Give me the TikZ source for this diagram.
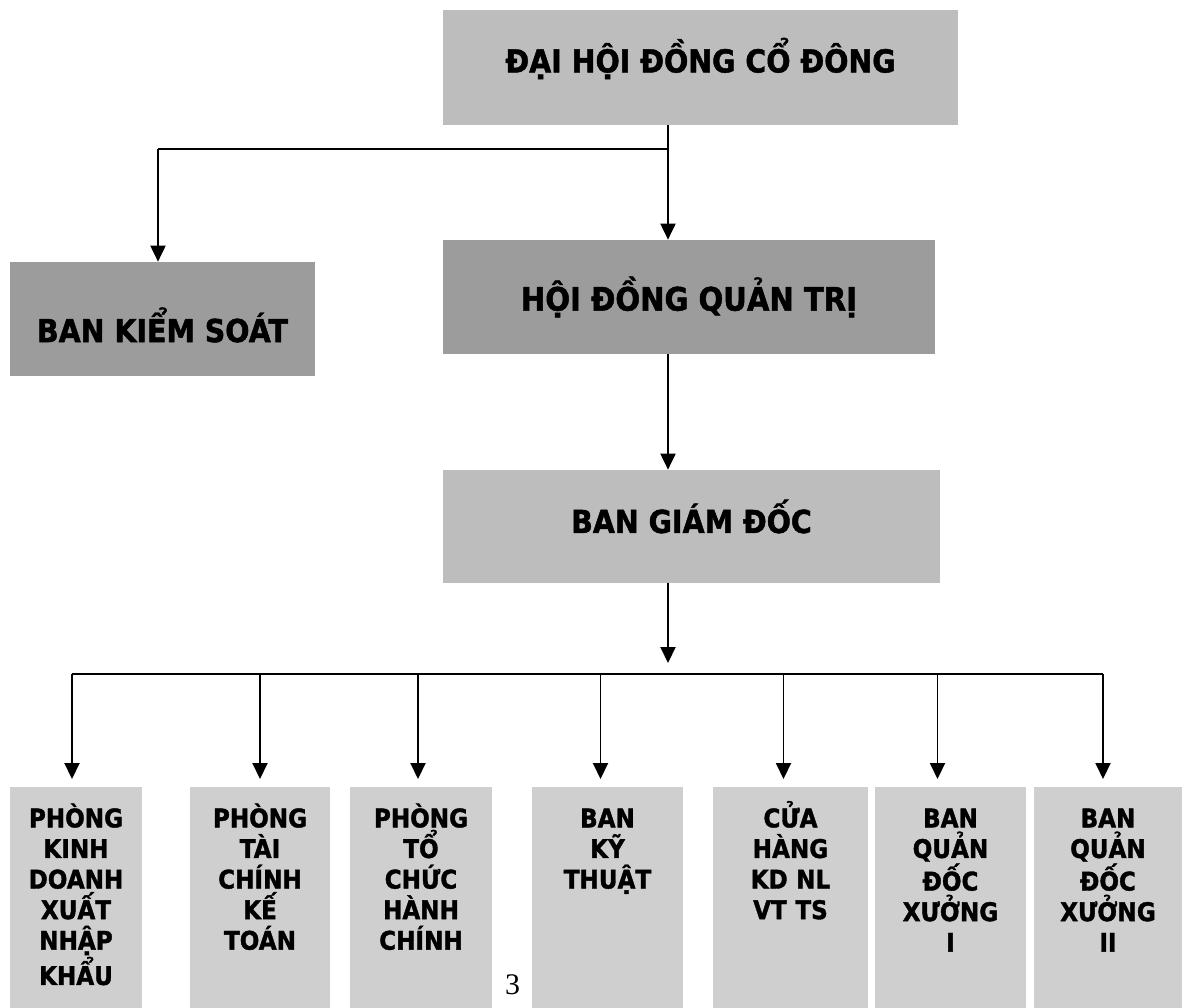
\documentclass[tikz,border=0pt]{standalone}
\usepackage{fontspec}
\setmainfont{DejaVu Sans}[BoldFeatures={FakeStretch=0.9,FakeBold=1.5}]
\newfontfamily\pagefont{Liberation Serif}
\usetikzlibrary{arrows.meta,positioning}

\newcommand{\lift}[2]{\raisebox{#1}[\height][\depth]{#2}}

\begin{document}
\begin{tikzpicture}
    % Define styles
    \tikzstyle{top} = [rectangle, fill=black!26, inner sep=0pt, font=\fontsize{18}{21}\selectfont\bfseries]
    \tikzstyle{board} = [rectangle, fill=black!39, inner sep=0pt, font=\fontsize{18}{21}\selectfont\bfseries]
    \tikzstyle{dept} = [rectangle, fill=black!19, anchor=north, inner sep=0pt, align=center, text height=0.8cm, text depth=3.8cm, font=\fontsize{14.6}{17.4}\selectfont\bfseries]
    \tikzstyle{arrow} = [line width=1.1pt, ->, >={Triangle[length=3.2mm,width=3mm]}]
    \tikzstyle{link} = [line width=1.1pt]

    \useasboundingbox (0,0) rectangle (23.88,-20.14);

    % Nodes
    \node[top, minimum width=10.3cm, minimum height=2.3cm] (dhcd) at (14.01,-1.35) {\lift{0.18cm}{ĐẠI HỘI ĐỒNG CỔ ĐÔNG}};
    \node[board, minimum width=6.1cm, minimum height=2.28cm] (bks) at (3.25,-6.38) {\lift{-0.12cm}{BAN KIỂM SOÁT}};
    \node[board, minimum width=9.84cm, minimum height=2.28cm, font=\fontsize{18.4}{22}\selectfont\bfseries] (hdqt) at (13.78,-5.94) {HỘI ĐỒNG QUẢN TRỊ};
    \node[top, minimum width=9.94cm, minimum height=2.26cm] (bgd) at (13.83,-10.53) {\lift{0.2cm}{BAN GIÁM ĐỐC}};

    \node[dept, text width=2.64cm] (kd) at (1.52,-15.74) {PHÒNG\\KINH\\DOANH\\XUẤT\\NHẬP\\KHẨU};
    \node[dept, text width=2.80cm] (tc) at (5.20,-15.74) {PHÒNG\\TÀI\\CHÍNH\\KẾ\\TOÁN};
    \node[dept, text width=2.84cm] (hc) at (8.42,-15.74) {PHÒNG\\TỔ\\CHỨC\\HÀNH\\CHÍNH};
    \node[dept, text width=3.02cm] (kt) at (12.15,-15.74) {BAN\\KỸ\\THUẬT};
    \node[dept, text width=3.10cm] (ch) at (15.81,-15.74) {CỬA\\HÀNG\\KD NL\\VT TS};
    \node[dept, text width=3.02cm] (x1) at (19.01,-15.74) {BAN\\QUẢN\\ĐỐC\\XƯỞNG\\I};
    \node[dept, text width=2.96cm] (x2) at (22.16,-15.74) {BAN\\QUẢN\\ĐỐC\\XƯỞNG\\II};

    \node[font=\pagefont\fontsize{17}{20}\selectfont] (page) at (10.25,-19.7) {3};

    % Junctions
    \coordinate (spine) at (13.36,0);
    \coordinate (split) at (13.36,-2.98);
    \coordinate (bus) at (13.36,-13.48);

    % Arrows
    \draw[link] (dhcd.south -| spine) -- (split);
    \draw[link] (split) -- ([xshift=-0.09cm]split -| bks.north);
    \draw[arrow] ([xshift=-0.09cm]split -| bks.north) -- ([xshift=-0.09cm]bks.north);
    \draw[arrow] (split) -- (hdqt.north -| spine);
    \draw[arrow] (hdqt.south -| spine) -- (bgd.north -| spine);
    \draw[arrow, shorten >=0.22cm] (bgd.south -| spine) -- (bus);
    \draw[link] ([xshift=-0.08cm]bus -| kd.north) -- ([xshift=-0.10cm]bus -| x2.north);
    \foreach \d/\dx in {kd/-0.08,tc/0,hc/-0.06,kt/-0.14,ch/-0.14,x1/-0.26,x2/-0.10}
        \draw[arrow, shorten >=0.16cm] ([xshift=\dx cm]bus -| \d.north) -- ([xshift=\dx cm]\d.north);
\end{tikzpicture}
\end{document}
